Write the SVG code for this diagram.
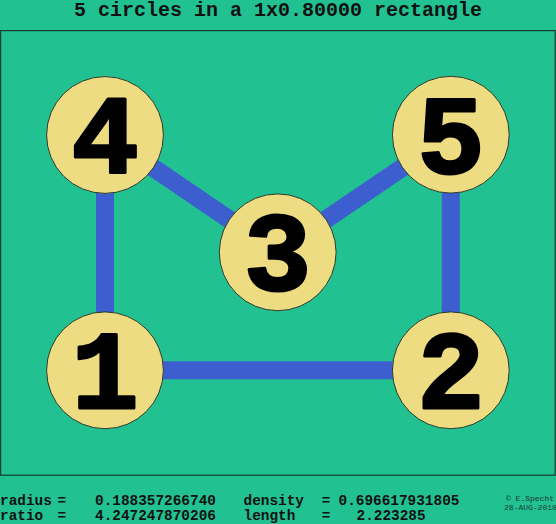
<svg xmlns="http://www.w3.org/2000/svg" width="556" height="524" viewBox="0 0 556 524">
<style>
.bg{fill:#21c192}
.frame{fill:none;stroke:#123c2c;stroke-width:1.2}
.edge{stroke:#3d5ecf;stroke-width:18;stroke-linecap:butt}
.disc{fill:#eedc82;stroke:#2a3a2a;stroke-width:1}
.num{font-family:"Liberation Mono","DejaVu Sans Mono",monospace;font-weight:bold;font-size:112px;fill:#000;stroke:#000;stroke-width:3;stroke-linejoin:round;text-anchor:middle}
.title{font-family:"Liberation Mono","Courier New",monospace;font-weight:bold;font-size:20px;fill:#111;text-anchor:middle}
.info{font-family:"Liberation Mono","Courier New",monospace;font-weight:bold;font-size:14.4px;fill:#111}
.copy{font-family:"Liberation Mono","Courier New",monospace;font-size:8px;fill:#1a3a30}
</style>
<rect class="bg" x="0" y="0" width="556" height="524"/>
<text class="title" x="278" y="15.5">5 circles in a 1x0.80000 rectangle</text>
<rect class="frame" x="0.6" y="30.6" width="554.6" height="444.6"/>
<g id="connectors">
<line class="edge" x1="105" y1="135" x2="277.7" y2="252.3"/>
<line class="edge" x1="277.7" y1="252.3" x2="450.8" y2="134.7"/>
<line class="edge" x1="450.8" y1="134.7" x2="450.8" y2="370.3"/>
<line class="edge" x1="450.8" y1="370.3" x2="105" y2="370.3"/>
<line class="edge" x1="105" y1="370.3" x2="105" y2="135"/>
</g>
<g id="node1"><circle class="disc" cx="105" cy="370.3" r="58.4"/><text class="num" x="105" y="408.3">1</text></g>
<g id="node2"><circle class="disc" cx="450.8" cy="370.3" r="58.4"/><text class="num" x="450.8" y="408.3">2</text></g>
<g id="node3"><circle class="disc" cx="277.7" cy="252.3" r="58.4"/><text class="num" x="277.7" y="290.3">3</text></g>
<g id="node4"><circle class="disc" cx="105" cy="135" r="58.4"/><text class="num" x="105" y="173">4</text></g>
<g id="node5"><circle class="disc" cx="450.8" cy="134.7" r="58.4"/><text class="num" x="450.8" y="172.7">5</text></g>
<text class="info" x="0" y="504.7">radius</text>
<text class="info" x="57.4" y="504.7">=</text>
<text class="info" x="95" y="504.7">0.188357266740</text>
<text class="info" x="243.5" y="504.7">density</text>
<text class="info" x="321.7" y="504.7">=</text>
<text class="info" x="338.5" y="504.7">0.696617931805</text>
<text class="info" x="0" y="519.7">ratio</text>
<text class="info" x="57.4" y="519.7">=</text>
<text class="info" x="95" y="519.7">4.247247870206</text>
<text class="info" x="243.5" y="519.7">length</text>
<text class="info" x="321.7" y="519.7">=</text>
<text class="info" x="356.5" y="519.7">2.223285</text>
<text class="copy" x="506" y="500.7">© E.Specht</text>
<text class="copy" x="504" y="509.7">28-AUG-2010</text>
</svg>
